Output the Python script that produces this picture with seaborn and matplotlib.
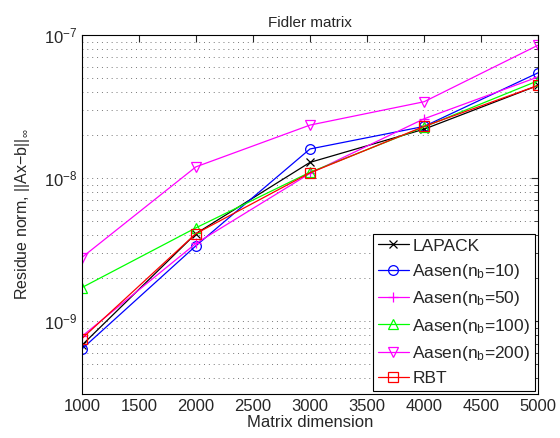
import numpy as np
import pandas as pd
import seaborn as sns
import matplotlib.pyplot as plt
from matplotlib.ticker import LogLocator, NullFormatter

# values
sizes = [1000, 2000, 3000, 4000, 5000]
lapack = [6.8e-10, 4.1e-9, 1.29e-8, 2.2e-8, 4.45e-8]
aasen_10 = [6.4e-10, 3.37e-9, 1.6e-8, 2.3e-8, 5.45e-8]
aasen_50 = [7.85e-10, 3.5e-9, 1.08e-8, 2.6e-8, 5.1e-8]
aasen_100 = [1.72e-9, 4.5e-9, 1.1e-8, 2.28e-8, 4.8e-8]
aasen_200 = [2.79e-9, 1.2e-8, 2.35e-8, 3.42e-8, 8.5e-8]
rbt = [7.57e-10, 4.1e-9, 1.09e-8, 2.3e-8, 4.45e-8]
y_major = [1e-9, 1e-8, 1e-7]

sns.set_style("white")
plt.rcParams['font.family'] = ['Liberation Sans', 'DejaVu Sans']
plt.rcParams['mathtext.default'] = 'regular'

fig = plt.figure(figsize=(5.6, 4.38), dpi=100)
ax = fig.add_axes([0.146, 0.100, 0.815, 0.820])

series = [
    ("LAPACK", lapack, "black", "x", 5.5),
    ("Aasen(n$_b$=10)", aasen_10, "blue", "o", 7),
    ("Aasen(n$_b$=50)", aasen_50, "magenta", "+", 7),
    ("Aasen(n$_b$=100)", aasen_100, "lime", "^", 7),
    ("Aasen(n$_b$=200)", aasen_200, "magenta", "v", 7),
    ("RBT", rbt, "red", "s", 6.5),
]

for label, vals, col, mk, ms in series:
    df = pd.DataFrame({"n": sizes, "res": vals})
    sns.lineplot(data=df, x="n", y="res", ax=ax, color=col, marker=mk,
                 markersize=ms, markerfacecolor="none", markeredgecolor=col,
                 markeredgewidth=0.9, linewidth=0.9, label=label)

ax.set_yscale("log")
ax.set_xlim(1000, 5000)
ax.set_ylim(3.1e-10, 1e-7)
ax.set_xticks(np.arange(1000, 5001, 500))
ax.set_yticks(y_major)
ax.yaxis.set_minor_locator(LogLocator(base=10, subs=np.arange(2, 10)))
ax.yaxis.set_minor_formatter(NullFormatter())
ax.yaxis.grid(True, which="both", linestyle=(0, (1, 4)), color="#777777", linewidth=0.7)
ax.xaxis.grid(False)

ax.tick_params(which="both", direction="in", top=True, right=True, labelsize=12)
ax.tick_params(which="major", length=5)
ax.tick_params(which="minor", length=3, labelleft=False, labelbottom=False)
for s in ax.spines.values():
    s.set_color("black")
    s.set_linewidth(0.8)

ax.set_title("Fidler matrix", fontsize=11)
ax.set_xlabel("Matrix dimension", fontsize=12, labelpad=1)
ax.set_ylabel(r"Residue norm, ||Ax$-$b||$_\infty$", fontsize=11.5, labelpad=8)

leg = ax.legend(loc="lower right", fontsize=12.5, frameon=True, fancybox=False,
                borderaxespad=0.2, handlelength=1.8, labelspacing=0.48,
                borderpad=0.25, handletextpad=0.2)
leg.get_frame().set_edgecolor("black")
leg.get_frame().set_linewidth(0.8)
leg.get_frame().set_alpha(1)

fig.savefig("out.png", dpi=100)
